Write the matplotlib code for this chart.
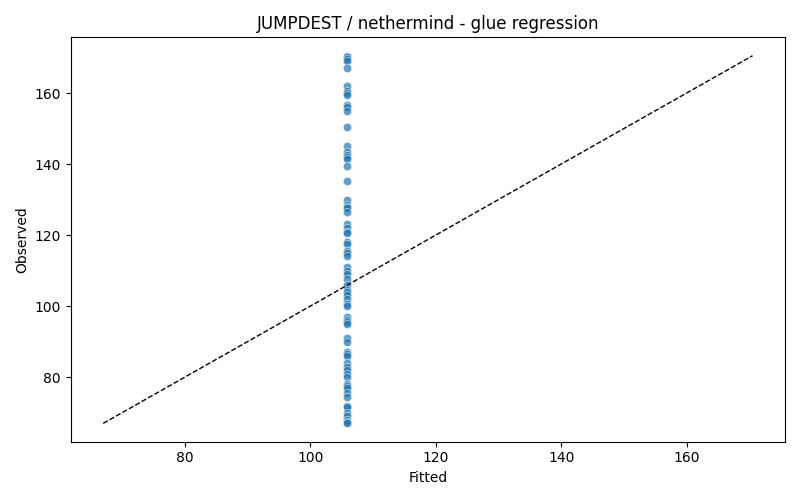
import numpy as np
import matplotlib
matplotlib.use("Agg")
import matplotlib.pyplot as plt
import seaborn as sns


fitted_value = 105.9

observed = [
    170.5, 170.0, 169.5, 169.0, 167.0, 162.0, 160.5, 160.0, 159.5, 156.5,
    156.0, 155.0, 150.3, 145.0, 143.5, 142.5, 142.0, 141.5, 139.5, 135.3,
    130.0, 128.5, 128.0, 127.5, 126.5, 123.0, 122.0, 121.0, 120.5, 118.0,
    117.5, 115.5, 115.0, 114.0, 111.0, 110.0, 109.0, 107.5, 106.0, 104.5,
    104.0, 103.0, 102.0, 100.5, 100.0, 97.0, 96.0, 95.5, 95.0, 91.0,
    90.0, 87.0, 86.5, 86.0, 84.0, 83.0, 82.0, 81.0, 80.0, 78.0,
    77.5, 77.0, 75.5, 74.5, 72.0, 71.5, 70.0, 69.0, 68.0, 67.5, 67.0,
]
fitted = [fitted_value] * len(observed)

fig, ax = plt.subplots(figsize=(8, 5), dpi=100)
sns.scatterplot(x=fitted, y=observed, alpha=0.7, ax=ax)

lo = min(min(observed), min(fitted))
hi = max(max(observed), max(fitted))
ax.plot([lo, hi], [lo, hi], 'k--', linewidth=1)

ax.set_xlabel('Fitted')
ax.set_ylabel('Observed')
ax.set_title('JUMPDEST / nethermind - glue regression')
fig.tight_layout()
fig.savefig('out.png')
